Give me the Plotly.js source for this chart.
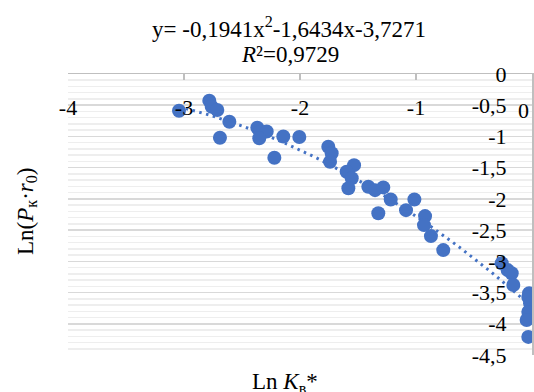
<!DOCTYPE html>
<html>
<head>
<meta charset="utf-8">
<script src="https://cdn.plot.ly/plotly-3.0.1.min.js"></script>
<style>
html,body{margin:0;padding:0;background:#fff;}
#chart{width:534px;height:392px;}
</style>
</head>
<body>
<div id="chart"></div>
<script>
// Data (Ln Kв*, Ln(Pк·r0))
const lnK = [-3.043, -2.782, -2.761, -2.713, -2.609, -2.690, -2.368, -2.345, -2.287, -2.351,
             -2.144, -2.006, -2.221, -1.756, -1.727, -1.741, -1.534, -1.598, -1.554, -1.583,
             -1.411, -1.353, -1.282, -1.218, -1.325, -1.014, -1.086, -0.922, -0.931, -0.871,
             -0.765, -0.261, -0.210, -0.175, -0.161, -0.025, -0.032, -0.017, -0.032, -0.046, -0.032];
const lnP = [-0.588, -0.427, -0.524, -0.577, -0.764, -1.02, -0.86, -0.925, -0.92, -1.03,
             -1.00, -1.01, -1.34, -1.165, -1.27, -1.405, -1.46, -1.565, -1.67, -1.83,
             -1.805, -1.86, -1.816, -2.01, -2.23, -2.01, -2.18, -2.276, -2.42, -2.596,
             -2.82, -3.03, -3.14, -3.19, -3.38, -3.51, -3.57, -3.67, -3.81, -3.94, -4.21];
// Polynomial trendline coefficients shown on the chart: a2, a1, a0
const trendCoef = [-0.1941, -1.6434, -3.7271];
const trendStart = -3.043, trendEnd = 0;
const xTickVals = [-4, -3, -2, -1, 0];
const xTickText = ['-4', '-3', '-2', '-1', '0'];
const yTickVals = [0, -0.5, -1, -1.5, -2, -2.5, -3, -3.5, -4, -4.5];
const yTickText = ['0', '-0,5', '-1', '-1,5', '-2', '-2,5', '-3', '-3,5', '-4', '-4,5'];
const titleLines = ['y= -0,1941x<sup>2</sup>-1,6434x-3,7271', '<i>R</i>²=0,9729'];

const tx = [], ty = [];
for (let i = 0; i <= 60; i++) {
  const x = trendStart + (trendEnd - trendStart) * i / 60;
  tx.push(x);
  ty.push(trendCoef[0] * x * x + trendCoef[1] * x + trendCoef[2]);
}

const blue = '#4472C4';
const font = 'Liberation Serif';
const fTitle = {family: font, size: 23, color: '#000'};
const fTick = {family: font, size: 22, color: '#000'};

const traces = [
  {x: tx, y: ty, type: 'scatter', mode: 'lines',
   line: {color: blue, width: 3, dash: '2.5px,4.5px'}, hoverinfo: 'skip', cliponaxis: false},
  {x: lnK, y: lnP, type: 'scatter', mode: 'markers',
   marker: {color: blue, size: 14, line: {width: 0}}, cliponaxis: false},
  // invisible trace binding the label axes
  {x: [null], y: [null], xaxis: 'x2', yaxis: 'y2', type: 'scatter', mode: 'markers',
   showlegend: false, hoverinfo: 'skip'}
];

const layout = {
  width: 534, height: 392,
  margin: {l: 68, r: 2, t: 74, b: 37, pad: 0},
  paper_bgcolor: '#fff', plot_bgcolor: '#fff',
  showlegend: false,
  font: fTick,
  xaxis: {
    range: [-4, 0], side: 'top', tickvals: xTickVals, showticklabels: false,
    ticks: 'inside', ticklen: 6, tickcolor: '#bfbfbf', tickwidth: 1.5,
    showline: true, linecolor: '#bfbfbf', linewidth: 1.5,
    showgrid: false, zeroline: false
  },
  xaxis2: {
    range: [-4, 0], overlaying: 'x', side: 'bottom', anchor: 'free', position: 0.935,
    tickvals: xTickVals.slice(0, 4), ticktext: xTickText.slice(0, 4), ticks: '', showline: false,
    showgrid: false, zeroline: false, tickfont: fTick
  },
  yaxis: {
    range: [-4.5, 0], side: 'right', tickvals: yTickVals, showticklabels: false,
    ticks: 'outside', ticklen: 5, tickcolor: '#bfbfbf', tickwidth: 1.5,
    showline: true, linecolor: '#bfbfbf', linewidth: 1.5,
    showgrid: true, gridcolor: '#d9d9d9', gridwidth: 1.5,
    zeroline: false,
    minor: {dtick: 0.1, showgrid: true, gridcolor: '#eeeeee', gridwidth: 1.5, ticks: ''}
  },
  yaxis2: {
    range: [-4.5, 0], overlaying: 'y', side: 'left', anchor: 'free', position: 0.945,
    tickvals: yTickVals, ticktext: yTickText, ticks: '', showline: false,
    showgrid: false, zeroline: false, tickfont: fTick
  },
  annotations: [
    {text: titleLines[0], xref: 'paper', yref: 'paper', x: 0.477, y: 1.167,
     xanchor: 'center', yanchor: 'middle', showarrow: false, font: fTitle},
    {text: titleLines[1], xref: 'paper', yref: 'paper', x: 0.479, y: 1.068,
     xanchor: 'center', yanchor: 'middle', showarrow: false, font: fTitle},
    {text: 'Ln(<i>P</i><sub>к</sub>·<i>r</i><sub>0</sub>)', xref: 'paper', yref: 'paper',
     x: -0.09, y: 0.51, xanchor: 'center', yanchor: 'middle', textangle: -90, showarrow: false,
     font: fTitle},
    {text: 'Ln <i>K</i><sub>в</sub>*', xref: 'paper', yref: 'paper',
     x: 0.468, y: -0.0996, xanchor: 'center', yanchor: 'middle', showarrow: false,
     font: fTitle},
    // last x tick label, shifted left of the axis end as in the reference
    {text: xTickText[4], xref: 'x', yref: 'paper', x: xTickVals[4], y: 0.87,
     xanchor: 'left', yanchor: 'middle', xshift: -16, showarrow: false, font: fTick}
  ]
};

Plotly.newPlot('chart', traces, layout, {displayModeBar: false, staticPlot: true});
</script>
</body>
</html>
